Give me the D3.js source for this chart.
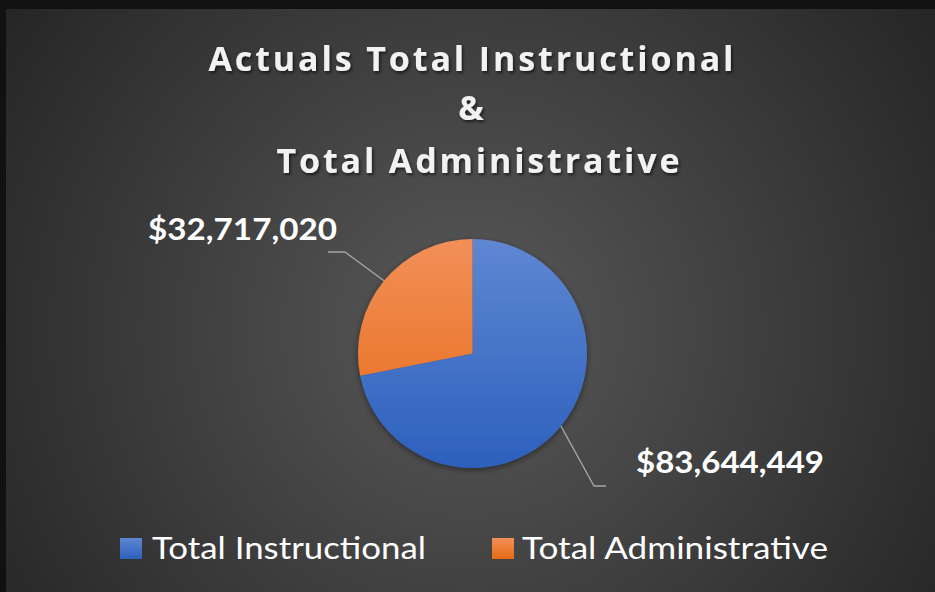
<!DOCTYPE html>
<html><head><meta charset="utf-8">
<script src="https://cdn.jsdelivr.net/npm/d3@7"></script>
<style>html,body{margin:0;padding:0;background:#111;}svg{display:block;}</style>
</head><body>
<svg id="c" width="935" height="592"></svg>
<script>
const categories = ["Total Instructional", "Total Administrative"];
const values = [83644449, 32717020];
const titleLines = ["Actuals Total Instructional", "&", "Total Administrative"];

const W = 935, H = 592;
const svg = d3.select("#c");
const defs = svg.append("defs");

const bg = defs.append("radialGradient").attr("id","bg")
  .attr("gradientUnits","userSpaceOnUse").attr("cx",470).attr("cy",330).attr("r",560);
bg.append("stop").attr("offset","0").attr("stop-color","#595959");
bg.append("stop").attr("offset","1").attr("stop-color","#262626");

const cx = 472.5, cy = 353.5, R = 114.5;

function vgrad(id, c0, c1, user){
  const g = defs.append("linearGradient").attr("id",id);
  if(user){ g.attr("gradientUnits","userSpaceOnUse").attr("x1",0).attr("x2",0).attr("y1",-R).attr("y2",R); }
  else { g.attr("x1",0).attr("y1",0).attr("x2",0).attr("y2",1); }
  g.append("stop").attr("offset","0").attr("stop-color",c0);
  g.append("stop").attr("offset","1").attr("stop-color",c1);
}
vgrad("gb","#5F87D2","#2C60BD",true);
vgrad("go","#F28F58","#E66A15",true);
vgrad("lb","#5F87D2","#2C60BD",false);
vgrad("lo","#F28F58","#E66A15",false);
const fills = ["url(#gb)","url(#go)"];
const legFills = ["url(#lb)","url(#lo)"];

const sh = defs.append("filter").attr("id","sh").attr("x","-20%").attr("y","-20%").attr("width","140%").attr("height","140%");
sh.append("feDropShadow").attr("dx",1.5).attr("dy",2).attr("stdDeviation",1.5).attr("flood-color","#000").attr("flood-opacity",0.6);
const psh = defs.append("filter").attr("id","psh").attr("x","-20%").attr("y","-20%").attr("width","140%").attr("height","140%");
psh.append("feDropShadow").attr("dx",0).attr("dy",2).attr("stdDeviation",3).attr("flood-color","#000").attr("flood-opacity",0.45);

svg.append("rect").attr("x",6).attr("y",9).attr("width",W-6).attr("height",H-9).attr("fill","url(#bg)");

// Title
const ty = [71, 120, 173];
const tx = [471, 471, 478];
const tLen = [525, null, 403];
svg.append("g").attr("filter","url(#sh)").selectAll("text").data(titleLines).join("text")
  .attr("x",(d,i)=>tx[i]).attr("y",(d,i)=>ty[i]).attr("text-anchor","middle")
  .attr("font-family","'Open Sans', sans-serif").attr("font-weight","bold").attr("font-size",34)
  .attr("fill","#F2F2F2")
  .each(function(d,i){ if(tLen[i]) d3.select(this).attr("textLength",tLen[i]).attr("lengthAdjust","spacing"); })
  .text(d=>d);

// Pie
const pie = d3.pie().sort(null).value(d=>d)(values);
const arc = d3.arc().innerRadius(0).outerRadius(R);
const pg = svg.append("g").attr("transform",`translate(${cx},${cy})`);
pg.append("g").attr("filter","url(#psh)").selectAll("path").data(pie).join("path")
  .attr("d",arc).attr("fill",(d,i)=>fills[i]);

// Leader lines and labels
const fmt = v => "$" + d3.format(",")(v);
const mid = d => (d.startAngle + d.endAngle)/2;
const edgePt = a => [cx + R*Math.sin(a), cy - R*Math.cos(a)];
const bends = [[[594,486],[606,486]], [[345,252],[328,252]]];
const lines = pie.map((d,i)=>[edgePt(mid(d))].concat(bends[i]));
svg.append("g").selectAll("path").data(lines).join("path")
  .attr("d", d=>d3.line()(d)).attr("fill","none").attr("stroke","#A6A6A6").attr("stroke-width",1.3);

const labelPos = [[636, 473, 188], [148, 240, 189]];
svg.append("g").selectAll("text").data(values).join("text")
  .attr("x",(d,i)=>labelPos[i][0]).attr("y",(d,i)=>labelPos[i][1])
  .attr("font-family","Lato, 'Open Sans', sans-serif").attr("font-weight","bold").attr("font-size",31)
  .attr("fill","#FFFFFF").attr("textLength",(d,i)=>labelPos[i][2]).attr("lengthAdjust","spacingAndGlyphs")
  .text(d=>fmt(d));

// Legend
const leg = [[120, 152, 274], [492, 522, 306]];
const lg = svg.append("g");
lg.selectAll("rect").data(categories).join("rect")
  .attr("x",(d,i)=>leg[i][0]).attr("y",538).attr("width",22).attr("height",21).attr("fill",(d,i)=>legFills[i]);
lg.selectAll("text").data(categories).join("text")
  .attr("x",(d,i)=>leg[i][1]).attr("y",559)
  .attr("font-family","Lato, 'Open Sans', sans-serif").attr("font-size",31).attr("fill","#FFFFFF")
  .attr("textLength",(d,i)=>leg[i][2]).attr("lengthAdjust","spacingAndGlyphs")
  .text(d=>d);
</script>
</body></html>
